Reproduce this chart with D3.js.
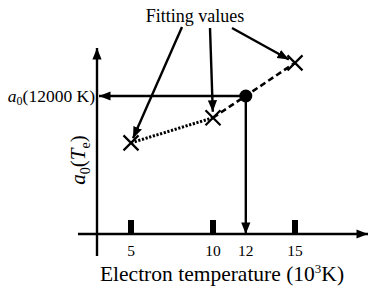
<!DOCTYPE html>
<html><head><meta charset="utf-8">
<script src="https://cdn.jsdelivr.net/npm/d3@7"></script>
<style>body{margin:0;background:#fff}svg{display:block}text{font-family:"Liberation Serif","Times New Roman",serif;fill:#000}</style>
</head><body>
<script>
const fitTemps = [5, 10, 15];
const fitValues = [4.9, 6.25, 9.2];
const targetTemp = 12;
const targetValue = 7.42;
const tickValues = [5, 10, 12, 15];
const barTicks = [5, 10, 15];
const xTitle = "Electron temperature (10";
const annotation = "Fitting values";

const W = 382, H = 289;
const svg = d3.select("body").append("svg").attr("width", W).attr("height", H);
const x = d3.scaleLinear().domain([5, 15]).range([131, 295]);
const y = d3.scaleLinear().domain([0, 10]).range([234, 48]);

const defs = svg.append("defs");
defs.append("marker").attr("id","ah").attr("viewBox","0 0 10 10").attr("refX",10).attr("refY",5)
  .attr("markerWidth",4.8).attr("markerHeight",4.8).attr("markerUnits","strokeWidth").attr("orient","auto")
  .append("path").attr("d","M0,1 L10,5 L0,9 Z").attr("fill","#000");

const SW = 2.4;
// axes
const x0 = x.invert(97);
svg.append("line").attr("x1",78).attr("x2",368).attr("y1",y(0)).attr("y2",y(0))
  .attr("stroke","#000").attr("stroke-width",SW).attr("marker-end","url(#ah)");
svg.append("line").attr("x1",x(x0)).attr("x2",x(x0)).attr("y1",256).attr("y2",48)
  .attr("stroke","#000").attr("stroke-width",SW).attr("marker-end","url(#ah)");

// bar ticks
svg.selectAll("rect.tk").data(barTicks).enter().append("rect").attr("class","tk")
  .attr("x",d=>x(d)-3).attr("y",220).attr("width",6).attr("height",y(0)-220).attr("fill","#000");

// tick labels
svg.selectAll("text.tl").data(tickValues).enter().append("text").attr("class","tl")
  .attr("x",d=>x(d)).attr("y",256).attr("text-anchor","middle").attr("font-size",15.5).text(d=>d);

// x title
const xt = svg.append("text").attr("x",222).attr("y",281).attr("text-anchor","middle").attr("font-size",21.5);
xt.append("tspan").text(xTitle);
xt.append("tspan").attr("font-size",13).attr("dy",-8).text("3");
xt.append("tspan").attr("dy",8).text("K)");

// y title
const yt = svg.append("text").attr("transform","translate(85,160) rotate(-90)").attr("text-anchor","middle").attr("font-size",21);
yt.append("tspan").attr("font-style","italic").text("a");
yt.append("tspan").attr("font-size",14).attr("dy",5).text("0");
yt.append("tspan").attr("dy",-5).text("(");
yt.append("tspan").attr("font-style","italic").text("T");
yt.append("tspan").attr("font-size",14).attr("dy",5).text("e");
yt.append("tspan").attr("dy",-5).text(")");

// a0(12000 K) label
const al = svg.append("text").attr("x",95).attr("y",y(targetValue)+6).attr("text-anchor","end").attr("font-size",17.5);
al.append("tspan").attr("font-style","italic").text("a");
al.append("tspan").attr("font-size",12).attr("dy",3).text("0");
al.append("tspan").attr("dy",-3).text("(12000 K)");

// guide arrows
svg.append("line").attr("x1",x(targetTemp)).attr("x2",x(x0)+2).attr("y1",y(targetValue)).attr("y2",y(targetValue))
  .attr("stroke","#000").attr("stroke-width",SW).attr("marker-end","url(#ah)");
svg.append("line").attr("x1",x(targetTemp)).attr("x2",x(targetTemp)).attr("y1",y(targetValue)).attr("y2",y(0))
  .attr("stroke","#000").attr("stroke-width",SW).attr("marker-end","url(#ah)");

// dotted line
svg.append("line").attr("x1",x(fitTemps[0])).attr("y1",y(fitValues[0])).attr("x2",x(fitTemps[1])).attr("y2",y(fitValues[1]))
  .attr("stroke","#000").attr("stroke-width",3).attr("stroke-dasharray","2.2,1.6");
// dashed line
svg.append("line").attr("x1",x(fitTemps[1])).attr("y1",y(fitValues[1])).attr("x2",x(fitTemps[2])).attr("y2",y(fitValues[2]))
  .attr("stroke","#000").attr("stroke-width",2.6).attr("stroke-dasharray","6,3.5");

// X markers
const s = 7.5;
svg.selectAll("path.xm").data(fitTemps.map((t,i)=>[t,fitValues[i]])).enter().append("path").attr("class","xm")
  .attr("d",d=>{const cx=x(d[0]),cy=y(d[1]);return `M${cx-s},${cy-s}L${cx+s},${cy+s}M${cx-s},${cy+s}L${cx+s},${cy-s}`;})
  .attr("stroke","#000").attr("stroke-width",2.2);
// filled circle
svg.append("circle").attr("cx",x(targetTemp)).attr("cy",y(targetValue)).attr("r",6.5).attr("fill","#000");

// Fitting values annotation
svg.append("text").attr("x",195).attr("y",22).attr("text-anchor","middle").attr("font-size",18).text(annotation);
const ann = [[182,27,fitTemps[0],fitValues[0],-5],[210,28,fitTemps[1],fitValues[1],-6],[232,28,fitTemps[2],fitValues[2],-7]];
ann.forEach(a=>{
  const tx=x(a[2]), ty=y(a[3]);
  const dx=tx-a[0], dy=ty-a[1], L=Math.hypot(dx,dy);
  const k=(L+a[4])/L;
  svg.append("line").attr("x1",a[0]).attr("y1",a[1]).attr("x2",a[0]+dx*k).attr("y2",a[1]+dy*k)
    .attr("stroke","#000").attr("stroke-width",SW).attr("marker-end","url(#ah)");
});
</script>
</body></html>
